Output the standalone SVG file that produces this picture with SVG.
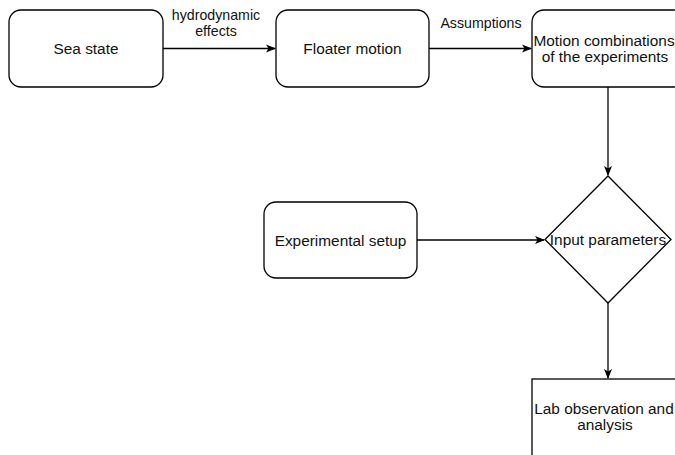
<svg xmlns="http://www.w3.org/2000/svg" width="675" height="455" viewBox="0 0 675 455">
<defs>
<style>
.box{fill:#fff;stroke:#000;stroke-width:1.3}
.t{font-family:"Liberation Sans",Arial,sans-serif;font-size:15.4px;fill:#111;text-anchor:middle}
.lbl{font-family:"Liberation Sans",Arial,sans-serif;font-size:14.2px;fill:#111;text-anchor:middle}
.edge{fill:none;stroke:#000;stroke-width:1.3}
</style>
<marker id="arr" viewBox="0 0 10 10" refX="9" refY="5" markerWidth="10" markerHeight="10" markerUnits="userSpaceOnUse" orient="auto">
<path d="M0,1 L10,5 L0,9 L2.5,5 Z" fill="#000"/>
</marker>
</defs>
<rect width="675" height="455" fill="#fff"/>
<g id="connectors">
<path class="edge" d="M163,48.5 H275" marker-end="url(#arr)"/>
<path class="edge" d="M429,48.5 H531" marker-end="url(#arr)"/>
<path class="edge" d="M608,87 V175" marker-end="url(#arr)"/>
<path class="edge" d="M417,240 H544" marker-end="url(#arr)"/>
<path class="edge" d="M608,303 V378" marker-end="url(#arr)"/>
<text class="lbl" x="216" y="20">hydrodynamic</text>
<text class="lbl" x="216" y="36">effects</text>
<text class="lbl" x="481" y="28">Assumptions</text>
</g>
<g id="sea-state">
<rect class="box" x="9" y="10" width="154" height="77" rx="12"/>
<text class="t" x="86" y="54">Sea state</text>
</g>
<g id="floater-motion">
<rect class="box" x="276" y="10" width="153" height="77" rx="12"/>
<text class="t" x="352.5" y="54">Floater motion</text>
</g>
<g id="motion-combinations">
<rect class="box" x="532" y="10" width="154" height="77" rx="12"/>
<text class="t" x="604" y="46">Motion combinations</text>
<text class="t" x="605" y="62">of the experiments</text>
</g>
<g id="experimental-setup">
<rect class="box" x="264" y="202" width="153" height="76" rx="12"/>
<text class="t" x="340.5" y="245.5">Experimental setup</text>
</g>
<g id="input-parameters">
<path class="box" d="M608,176 L671,239.5 L608,303 L545,239.5 Z"/>
<text class="t" x="608" y="245">Input parameters</text>
</g>
<g id="lab-observation">
<rect class="box" x="532" y="379" width="154" height="80"/>
<text class="t" x="604" y="414">Lab observation and</text>
<text class="t" x="605" y="430">analysis</text>
</g>
</svg>
